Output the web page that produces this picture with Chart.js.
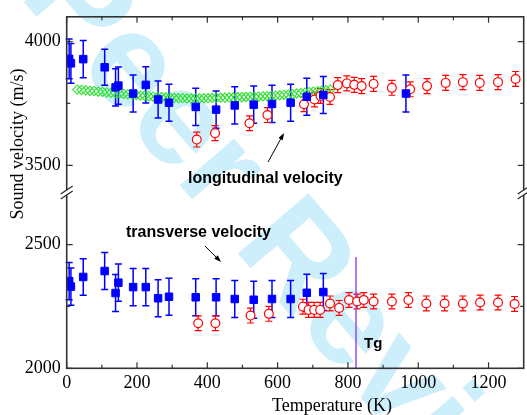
<!DOCTYPE html>
<html>
<head>
<meta charset="utf-8">
<script src="https://cdn.jsdelivr.net/npm/chart.js@4"></script>
<style>
  html, body { margin: 0; padding: 0; background: #fff; overflow: hidden; }
  canvas { display: block; }
</style>
</head>
<body>
<canvas id="chart" width="530" height="415"></canvas>
<script>
// Longitudinal velocity, pulse-echo (filled blue squares), upper panel
const blueLongT = [7, 12, 47, 108, 139, 147, 189, 225, 260, 291, 367, 425, 478, 532, 584, 637, 683, 730, 965];
const blueLongV = [3930, 3912, 3929, 3896, 3815, 3822, 3790, 3825, 3766, 3753, 3736, 3725, 3742, 3745, 3748, 3753, 3777, 3784, 3790];
const blueLongErr = [80, 80, 75, 73, 75, 75, 75, 73, 75, 75, 75, 75, 75, 75, 75, 75, 75, 75, 75];

// Transverse velocity, pulse-echo (filled blue squares), lower panel
const blueTransT = [7, 12, 47, 108, 139, 147, 189, 225, 260, 291, 367, 425, 478, 532, 584, 637, 683, 730];
const blueTransV = [2352, 2330, 2369, 2393, 2304, 2346, 2328, 2328, 2283, 2289, 2287, 2287, 2280, 2277, 2280, 2280, 2305, 2308];
const blueTransErr = [75, 75, 74, 75, 75, 75, 75, 75, 75, 75, 75, 75, 75, 75, 75, 75, 75, 75];

// High-temperature data (open red circles)
const redLongT = [370, 422, 520, 571, 675, 705, 722, 749, 771, 797, 818, 839, 873, 925, 977, 1025, 1078, 1127, 1175, 1227, 1277];
const redLongV = [3604, 3630, 3670, 3703, 3747, 3766, 3780, 3776, 3824, 3831, 3825, 3820, 3829, 3813, 3807, 3820, 3833, 3836, 3833, 3836, 3849];
const redTransT = [374, 423, 523, 575, 672, 688, 704, 721, 749, 775, 803, 826, 845, 873, 925, 972, 1023, 1075, 1127, 1176, 1227, 1274];
const redTransV = [2182, 2182, 2213, 2220, 2249, 2236, 2236, 2236, 2262, 2244, 2276, 2270, 2276, 2270, 2270, 2276, 2262, 2262, 2262, 2266, 2266, 2260];
const redErr = 30;

// Dense longitudinal scan (open green diamonds)
const greenT = [30, 42, 54, 66, 78, 90, 102, 114, 126, 138, 150, 162, 174, 186, 198, 210, 222, 234, 246, 258,
  270, 282, 294, 306, 318, 330, 342, 354, 366, 378, 390, 402, 414, 426, 438, 450, 462, 474, 486, 498,
  510, 522, 534, 546, 558, 570, 582, 594, 606, 618, 630, 642, 654, 666, 678, 690, 702, 714, 726, 738, 750];
const greenV = [3806, 3805, 3803, 3801, 3800, 3798, 3797, 3795, 3793, 3792, 3790, 3789, 3787, 3786, 3784, 3782, 3781, 3779, 3778, 3776,
  3775, 3774, 3773, 3772, 3771, 3771, 3770, 3770, 3770, 3770, 3771, 3771, 3772, 3772, 3773, 3773, 3774, 3774, 3775, 3775,
  3776, 3777, 3777, 3778, 3779, 3780, 3781, 3782, 3783, 3785, 3786, 3788, 3790, 3792, 3794, 3796, 3798, 3800, 3802, 3804, 3806];

// Glass transition marker
const tgT = 823;
const tgRange = [2000, 2450];

// Axis ticks
const xMajor = [0, 200, 400, 600, 800, 1000, 1200];
const xMinor = [100, 300, 500, 700, 900, 1100];
const yTicks = [2000, 2250, 2500, 3500, 3750, 4000];
const yLabels = ['2000', '', '2500', '3500', '', '4000'];

// broken axis: everything above the break is pulled down by GAP
const GAP = 680;
const BREAK = 2710;
const ax = v => (v > 3000 ? v - GAP : v);

const pts = (ts, vs) => ts.map((t, i) => ({ x: t, y: ax(vs[i]) }));

const SERIF = '"Liberation Serif", "Times New Roman", serif';
const SANS = '"Liberation Sans", Arial, sans-serif';

const errorBars = {
  id: 'errorBars',
  beforeDatasetsDraw(chart) {
    const { ctx, scales: { x, y } } = chart;
    chart.data.datasets.forEach(ds => {
      if (!ds.errors) return;
      ctx.save();
      ctx.strokeStyle = ds.borderColor;
      ctx.lineWidth = ds.errWidth;
      ds.data.forEach((p, i) => {
        const e = Array.isArray(ds.errors) ? ds.errors[i] : ds.errors;
        const px = x.getPixelForValue(p.x);
        const t = y.getPixelForValue(p.y + e), b = y.getPixelForValue(p.y - e);
        ctx.beginPath();
        ctx.moveTo(px, t); ctx.lineTo(px, b);
        ctx.moveTo(px - 3.5, t); ctx.lineTo(px + 3.5, t);
        ctx.moveTo(px - 3.5, b); ctx.lineTo(px + 3.5, b);
        ctx.stroke();
      });
      ctx.restore();
    });
  }
};

const watermark = {
  id: 'watermark',
  beforeDraw(chart) {
    const ctx = chart.ctx;
    ctx.save();
    ctx.fillStyle = '#fff';
    ctx.fillRect(0, 0, chart.width, chart.height);
    ctx.translate(18, -5);
    ctx.rotate(49.6 * Math.PI / 180);
    ctx.fillStyle = '#cdeefb';
    ctx.font = 'bold 135px ' + SANS;
    ctx.textBaseline = 'alphabetic';
    ctx.textAlign = 'right';
    ctx.fillText('For ', 0, 0);
    ctx.textAlign = 'left';
    ctx.fillText('Peer Review', 0, 0);
    ctx.restore();
  }
};

function arrow(ctx, x0, y0, x1, y1) {
  const a = Math.atan2(y1 - y0, x1 - x0);
  ctx.beginPath();
  ctx.moveTo(x0, y0); ctx.lineTo(x1 - 4 * Math.cos(a), y1 - 4 * Math.sin(a));
  ctx.stroke();
  ctx.beginPath();
  ctx.moveTo(x1, y1);
  ctx.lineTo(x1 - 7 * Math.cos(a) + 2.5 * Math.sin(a), y1 - 7 * Math.sin(a) - 2.5 * Math.cos(a));
  ctx.lineTo(x1 - 7 * Math.cos(a) - 2.5 * Math.sin(a), y1 - 7 * Math.sin(a) + 2.5 * Math.cos(a));
  ctx.closePath();
  ctx.fill();
}

const frame = {
  id: 'frame',
  afterDraw(chart) {
    const { ctx, chartArea: a, scales: { x, y } } = chart;
    ctx.save();
    ctx.strokeStyle = '#333';
    ctx.lineWidth = 1.6;
    ctx.strokeRect(a.left, a.top, a.right - a.left, a.bottom - a.top);
    ctx.lineWidth = 1.2;
    ctx.beginPath();
    const xt = (v, len) => {
      const px = x.getPixelForValue(v);
      ctx.moveTo(px, a.bottom); ctx.lineTo(px, a.bottom - len);
      ctx.moveTo(px, a.top); ctx.lineTo(px, a.top + len);
    };
    xMajor.forEach(v => xt(v, 6));
    xMinor.forEach(v => xt(v, 3.5));
    yTicks.forEach((v, i) => {
      const py = y.getPixelForValue(ax(v));
      const len = yLabels[i] ? 6 : 3.5;
      ctx.moveTo(a.left, py); ctx.lineTo(a.left + len, py);
      ctx.moveTo(a.right, py); ctx.lineTo(a.right - len, py);
    });
    ctx.stroke();

    // axis break marks
    const yb = y.getPixelForValue(BREAK);
    [a.left, a.right].forEach(px => {
      ctx.fillStyle = '#fff';
      ctx.fillRect(px - 2, yb - 2.5, 4, 5);
      ctx.beginPath();
      [-2.5, 2.5].forEach(d => {
        ctx.moveTo(px - 6, yb + d + 4); ctx.lineTo(px + 6, yb + d - 4);
      });
      ctx.strokeStyle = '#222';
      ctx.lineWidth = 1.1;
      ctx.stroke();
    });

    // titles
    ctx.fillStyle = '#000';
    ctx.font = '18px ' + SERIF;
    ctx.textAlign = 'center';
    ctx.textBaseline = 'alphabetic';
    ctx.fillText('Temperature (K)', 332, 411);
    ctx.save();
    ctx.translate(23, 144);
    ctx.rotate(-Math.PI / 2);
    ctx.fillText('Sound velocity (m/s)', 0, 0);
    ctx.restore();

    // annotations
    ctx.font = 'bold 16px ' + SANS;
    ctx.textAlign = 'left';
    ctx.fillText('longitudinal velocity', 188, 183);
    ctx.fillText('transverse velocity', 126, 237);
    ctx.font = 'bold 15px ' + SANS;
    ctx.fillText('Tg', 364, 348);
    ctx.strokeStyle = '#000';
    ctx.lineWidth = 1;
    arrow(ctx, 268, 162, 284, 133);
    arrow(ctx, 205, 246, 221, 262);
    ctx.restore();
  }
};

new Chart(document.getElementById('chart'), {
  type: 'scatter',
  data: {
    datasets: [
      {
        data: pts(blueLongT, blueLongV), errors: blueLongErr, errWidth: 1.5, order: 1,
        pointStyle: 'rect', pointRadius: 5.3, borderColor: '#0000ff', backgroundColor: '#0000ff', borderWidth: 1
      },
      {
        data: pts(blueTransT, blueTransV), errors: blueTransErr, errWidth: 1.5, order: 1,
        pointStyle: 'rect', pointRadius: 5.3, borderColor: '#0000ff', backgroundColor: '#0000ff', borderWidth: 1
      },
      {
        data: pts(redLongT, redLongV), errors: redErr, errWidth: 1.2, order: 2,
        pointStyle: 'circle', pointRadius: 4.4, borderColor: '#ff0000', backgroundColor: '#fff', borderWidth: 1.2
      },
      {
        data: pts(redTransT, redTransV), errors: redErr, errWidth: 1.2, order: 2,
        pointStyle: 'circle', pointRadius: 4.4, borderColor: '#ff0000', backgroundColor: '#fff', borderWidth: 1.2
      },
      {
        data: pts(greenT, greenV), order: 3,
        pointStyle: 'rectRot', pointRadius: 4.6, borderColor: '#2ae02a', backgroundColor: 'rgba(0,0,0,0)', borderWidth: 1.1
      },
      {
        data: tgRange.map(v => ({ x: tgT, y: v })), order: 4, showLine: true,
        pointRadius: 0, borderColor: '#8b2ff0', borderWidth: 1.3
      }
    ]
  },
  options: {
    responsive: false,
    animation: false,
    events: [],
    layout: { padding: { top: 14, right: 1.8, left: 0, bottom: 0 } },
    plugins: { legend: { display: false }, tooltip: { enabled: false } },
    scales: {
      x: {
        type: 'linear', min: 0, max: 1300,
        grid: { display: false, drawTicks: false },
        border: { display: false },
        afterFit: s => { s.height = 46.7; },
        ticks: {
          stepSize: 100, autoSkip: false, maxRotation: 0, padding: 4, color: '#000',
          font: { family: SERIF, size: 18 },
          callback: v => (xMajor.includes(v) ? String(v) : '')
        }
      },
      y: {
        type: 'linear', min: 2000, max: 3420,
        grid: { display: false, drawTicks: false },
        border: { display: false },
        afterFit: s => { s.width = 66.7; },
        afterBuildTicks: s => { s.ticks = yTicks.map(v => ({ value: ax(v) })); },
        ticks: {
          padding: 6, color: '#000',
          font: { family: SERIF, size: 18 },
          callback: (v, i) => yLabels[i]
        }
      }
    }
  },
  plugins: [watermark, errorBars, frame]
});
</script>
</body>
</html>
